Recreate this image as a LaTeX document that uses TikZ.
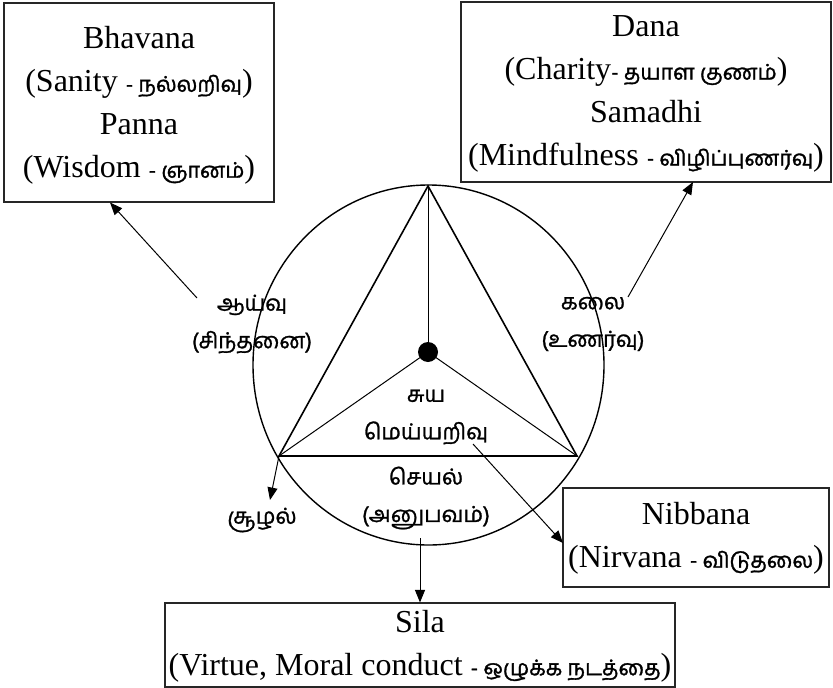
\documentclass[tikz,border=0pt]{standalone}
\usepackage{fontspec}
\setmainfont{Liberation Serif}
\newfontfamily\tam[Script=Tamil,FakeBold=1.5]{Hind Madurai}
\newfontfamily\tamlab[Script=Tamil,FakeBold=1.2]{Hind Madurai}
\usetikzlibrary{arrows.meta}
\newcommand\tmx[1]{{\tam\fontsize{21.5}{21.5}\selectfont #1}}
\begin{document}
\begin{tikzpicture}[x=1pt,y=-1pt,
  box/.style={draw=black!85, line width=1.1pt, inner sep=0pt},
  boxtext/.style={align=center, inner sep=0pt, font=\fontsize{32}{43}\selectfont},
  tlab/.style={font=\tamlab\fontsize{22}{37.5}\selectfont, align=center, inner sep=0pt},
  arr/.style={line width=1pt, -{Triangle[length=12.5pt,width=10pt]}},
  thick line/.style={line width=1.6pt},
  thin line/.style={line width=1pt}]
\useasboundingbox (0,0) rectangle (833,688);
% boxes
\node[box, minimum width=270, minimum height=199] (bhav) at (139,102.5) {};
\node[boxtext] (bhavt) at ([yshift=-3pt]bhav.center)
  {Bhavana\\(Sanity \tmx{- நல்லறிவு})\\Panna\\(Wisdom \tmx{- ஞானம்})};
\node[box, minimum width=370, minimum height=180] (dana) at (646,92) {};
\node[boxtext] (danat) at ([yshift=-2pt]dana.center)
  {Dana\\(Charity\tmx{- தயாள குணம்})\\Samadhi\\(Mindfulness \tmx{- விழிப்புணர்வு})};
\node[box, minimum width=266, minimum height=99] (nib) at (696,537.5) {};
\node[boxtext] (nibt) at ([yshift=-1pt]nib.center)
  {Nibbana\\(Nirvana \tmx{- விடுதலை})};
\node[box, minimum width=510, minimum height=84] (sila) at (420,645) {};
\node[boxtext] (silat) at ([yshift=-1pt]sila.center)
  {Sila\\(Virtue, Moral conduct \tmx{- ஒழுக்க நடத்தை})};
% circle and triangle
\coordinate (cc) at (428.5,365);
\draw[line width=1.4pt] (cc) ellipse [x radius=175.5, y radius=180];
\coordinate (apex) at (428,186);
\coordinate (bl) at (279,456);
\coordinate (br) at (577,456);
\node[circle, fill=black, minimum size=20, inner sep=0pt] (dot) at (428,352) {};
\draw[thick line, line join=miter] (apex) -- (bl) -- (br) -- cycle;
\draw[thin line] (apex) -- (dot.center);
\draw[thin line] (dot.center) -- (bl);
\draw[thin line] (dot.center) -- (br);
% labels
\node[tlab] (aayvu) at (252,324) {ஆய்வு\\(சிந்தனை)};
\node[tlab] (kalai) at (593,324) {கலை\\(உணர்வு)};
\node[tlab] (suya) at (426,417) {சுய\\மெய்யறிவு};
\node[tlab] (seyal) at (426,498) {செயல்\\(அனுபவம்)};
\node[tlab] (soozh) at (262,520) {சூழல்};
% arrows
\coordinate (s1) at (197,298);
\coordinate (e1) at (110,202.5);
\coordinate (s2) at (628,297);
\coordinate (e2) at (693,182);
\coordinate (s3) at (473,444);
\coordinate (e3) at (563,543);
\coordinate (s4) at (420,538);
\coordinate (e5) at (270,500);
\draw[arr] (s1) -- (e1);
\draw[arr] (s2) -- (e2);
\draw[arr] (s3) -- (e3);
\draw[arr] (s4) -- (sila.north);
\draw[arr] (bl) -- (e5);
\end{tikzpicture}
\end{document}
